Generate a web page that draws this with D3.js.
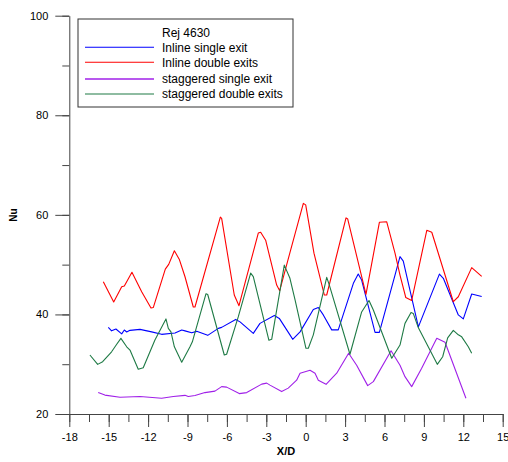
<!DOCTYPE html>
<html>
<head>
<meta charset="utf-8">
<script src="https://cdn.jsdelivr.net/npm/d3@7"></script>
<style>
body{margin:0;background:#fff;}
text{font-family:"Liberation Sans",Arial,sans-serif;}
</style>
</head>
<body>
<svg id="c" width="508" height="462"></svg>
<script>
const xTicks = [-18,-15,-12,-9,-6,-3,0,3,6,9,12,15];
const yTicks = [20,40,60,80,100];
const legendTitle = "Rej 4630";
const seriesNames = ["Inline single exit","Inline double exits","staggered single exit","staggered double exits"];
const seriesColors = ["#0000ff","#ff0000","#a020e8","#1e7a45"];

const blueX = [-15.03,-14.78,-14.45,-14.01,-13.81,-13.63,-13.38,-12.62,-11.73,-10.97,-9.95,-9.44,-9.19,-8.68,-8.3,-7.46,-6.65,-6.4,-5.33,-5.0,-3.99,-3.48,-2.39,-2.01,-1.2,-0.99,-0.43,0.58,0.96,1.34,1.98,2.48,3.63,4.0,4.26,5.28,5.61,6.8,7.18,7.43,8.58,10.18,10.48,11.62,12.0,12.64,13.4];
const blueY = [37.4,36.7,37.07,36.1,36.87,36.47,36.8,37.0,36.5,36.0,36.27,36.87,36.7,36.3,36.6,35.8,37.2,37.4,39.0,38.5,36.2,38.2,39.8,39.2,35.9,35.0,36.5,41.0,41.4,39.9,36.9,36.9,46.25,48.1,46.9,36.4,36.4,47.9,51.6,50.7,37.5,48.1,47.25,39.9,39.1,44.1,43.6];

const redX = [-15.41,-14.62,-14.01,-13.81,-13.23,-12.49,-11.78,-11.6,-10.69,-10.43,-10.0,-9.63,-9.19,-8.56,-8.43,-6.5,-6.4,-5.44,-5.08,-3.61,-3.43,-3.05,-2.21,-1.98,-1.2,-0.18,0.0,0.63,1.42,1.6,3.07,3.2,4.59,5.61,6.17,6.8,7.18,7.62,8.07,9.22,9.6,11.24,11.62,12.64,13.4];
const redY = [46.57,42.49,45.56,45.7,48.45,44.56,41.29,41.4,49.1,50.06,52.8,51.1,47.57,41.49,41.49,59.56,59.3,43.9,41.75,56.35,56.5,54.9,45.9,44.76,52.4,62.3,62.0,52.3,43.9,43.9,59.4,59.16,44.04,58.5,58.6,52.3,47.9,43.4,42.8,56.9,56.5,42.55,43.55,49.4,47.65];

const purpleX = [-15.8,-15.29,-14.14,-12.62,-10.97,-10.08,-9.19,-8.94,-8.43,-7.67,-6.91,-6.4,-6.02,-5.06,-4.49,-3.35,-2.97,-2.72,-1.83,-1.33,-0.69,-0.43,0.33,0.71,0.96,1.55,2.36,3.27,3.88,4.72,5.15,6.5,7.18,7.56,8.07,8.83,9.98,10.61,12.2];
const purpleY = [24.3,23.8,23.35,23.5,23.15,23.5,23.75,23.5,23.7,24.3,24.6,25.5,25.4,24.1,24.3,26.0,26.2,25.8,24.5,25.2,26.8,28.2,28.8,28.2,26.8,25.96,28.2,32.2,29.8,25.7,26.5,32.7,29.8,27.5,25.5,29.2,35.2,34.4,23.15];

const greenX = [-16.43,-15.84,-15.46,-14.78,-14.39,-14.07,-13.63,-13.38,-12.75,-12.37,-11.48,-10.64,-10.46,-10.26,-10.0,-9.44,-8.81,-8.63,-7.59,-7.46,-6.2,-6.02,-5.13,-4.19,-3.99,-2.8,-2.59,-1.63,-1.2,-0.81,0.02,0.2,0.58,1.6,1.8,3.37,4.26,4.82,5.15,6.55,7.18,7.56,8.02,8.19,8.58,10.02,10.43,10.81,11.24,11.62,11.88,12.38,12.64];
const greenY = [31.85,29.97,30.5,32.5,34.0,35.2,33.5,32.85,29.0,29.3,34.86,39.1,37.2,36.5,33.5,30.4,33.5,34.5,44.16,44.0,31.85,32.0,39.55,48.3,47.6,34.8,35.0,49.9,47.25,42.9,33.2,33.2,35.9,47.45,45.9,32.0,40.5,42.8,40.9,31.2,33.85,38.2,40.4,40.2,37.3,29.97,31.5,35.3,36.8,35.9,35.5,33.5,32.2];

const seriesX = [blueX, redX, purpleX, greenX];
const seriesY = [blueY, redY, purpleY, greenY];

const svg = d3.select("#c");
const x = d3.scaleLinear().domain([-18,15]).range([69.3,502.7]);
const y = d3.scaleLinear().domain([20,100]).range([414,15.7]);
const axisColor = "#444";

const xMinor = d3.range(-18,15.01,1.5);
svg.append("g").attr("transform","translate(0,414)")
  .call(d3.axisBottom(x).tickValues(xMinor).tickSize(8).tickFormat(""))
  .call(g=>{g.select(".domain").remove();g.selectAll("line").attr("stroke",axisColor);});
const gx = svg.append("g").attr("transform","translate(0,414)")
  .call(d3.axisBottom(x).tickValues(xTicks).tickSize(13).tickPadding(6).tickSizeOuter(0).tickFormat(d=>String(d)));
gx.select(".domain").attr("stroke",axisColor);
gx.selectAll("line").attr("stroke",axisColor);
gx.selectAll("text").attr("font-size",11).attr("fill","#000").attr("font-family","Liberation Sans, Arial, sans-serif");

const yMinor = d3.range(20,100.01,10);
svg.append("g").attr("transform","translate(69.3,0)")
  .call(d3.axisLeft(y).tickValues(yMinor).tickSize(7).tickFormat(""))
  .call(g=>{g.select(".domain").remove();g.selectAll("line").attr("stroke",axisColor);});
const gy = svg.append("g").attr("transform","translate(69.3,0)")
  .call(d3.axisLeft(y).tickValues(yTicks).tickSize(14).tickPadding(7).tickSizeOuter(0));
gy.select(".domain").attr("stroke",axisColor);
gy.selectAll("line").attr("stroke",axisColor);
gy.selectAll("text").attr("font-size",11).attr("fill","#000").attr("font-family","Liberation Sans, Arial, sans-serif");

svg.append("text").attr("x",286).attr("y",455).attr("text-anchor","middle")
  .attr("font-size",11).attr("font-weight","bold").text("X/D");
svg.append("text").attr("transform","translate(17,215) rotate(-90)").attr("text-anchor","middle")
  .attr("font-size",10).attr("font-weight","bold").text("Nu");

const line = d3.line().x(d=>x(d[0])).y(d=>y(d[1]));
seriesX.forEach((xs,i)=>{
  const pts = xs.map((v,j)=>[v, seriesY[i][j]]);
  svg.append("path").datum(pts).attr("d",line).attr("fill","none")
    .attr("stroke",seriesColors[i]).attr("stroke-width",1.1).attr("stroke-linejoin","round");
});

const lg = svg.append("g");
lg.append("rect").attr("x",78).attr("y",19).attr("width",215).attr("height",88)
  .attr("fill","#fff").attr("stroke","#333").attr("stroke-width",1);
lg.append("text").attr("x",162).attr("y",36.5).attr("font-size",12).text(legendTitle);
const rowY = [47.3,62.3,79,94];
seriesNames.forEach((n,i)=>{
  lg.append("line").attr("x1",85).attr("x2",154).attr("y1",rowY[i]).attr("y2",rowY[i])
    .attr("stroke",seriesColors[i]).attr("stroke-width",i===2?1.6:1.1);
  lg.append("text").attr("x",162).attr("y",rowY[i]+4.3).attr("font-size",12).text(n);
});
</script>
</body>
</html>
